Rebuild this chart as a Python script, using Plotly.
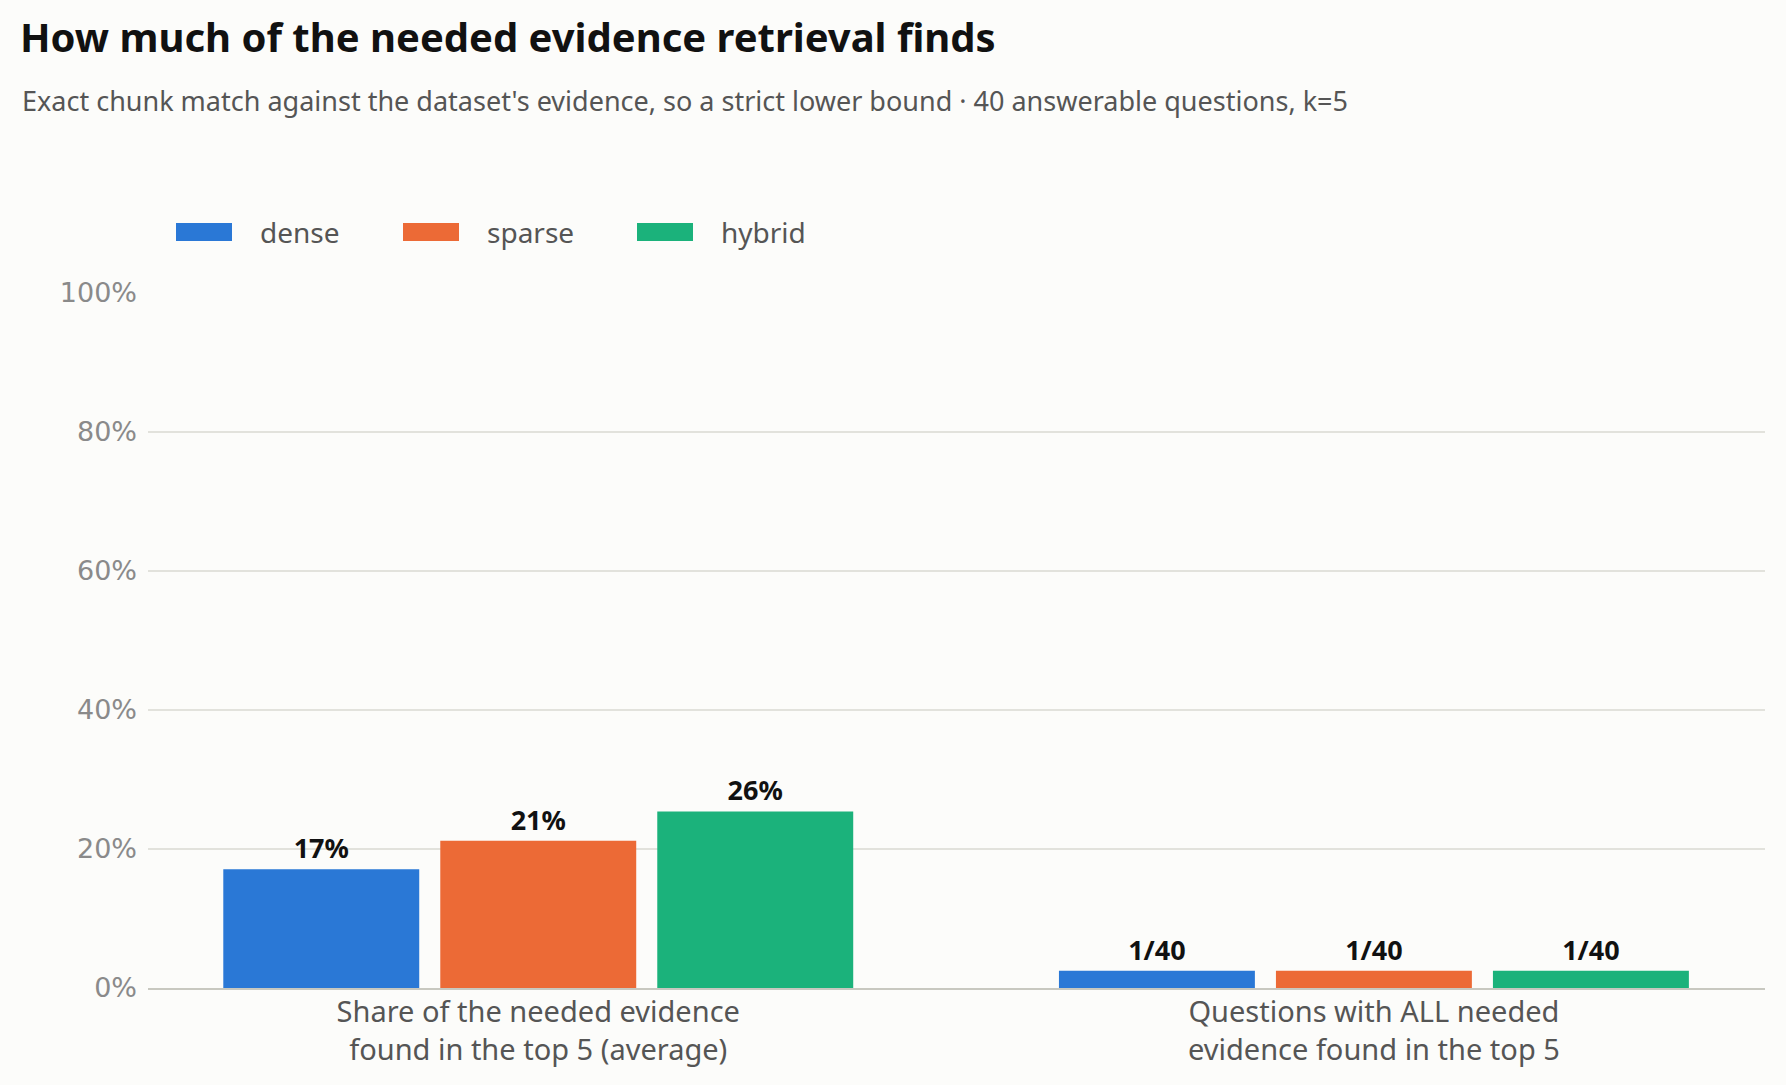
import plotly.graph_objects as go

W, H = 1786, 1085

categories = [
    "Share of the needed evidence<br>found in the top 5 (average)",
    "Questions with ALL needed<br>evidence found in the top 5",
]
methods = ["dense", "sparse", "hybrid"]
colors = ["#2a78d6", "#ec6a36", "#1bb27b"]

# percent values per method, one per category
dense = [17.1, 2.5]
sparse = [21.2, 2.5]
hybrid = [25.4, 2.5]
dense_labels = ["17%", "1/40"]
sparse_labels = ["21%", "1/40"]
hybrid_labels = ["26%", "1/40"]

series = [dense, sparse, hybrid]
labels = [dense_labels, sparse_labels, hybrid_labels]

y_ticks = [0, 20, 40, 60, 80, 100]

BG = "#fcfcfa"
BODY = "Noto Sans"
ML, MR, MT, MB = 140, 29, 285, 105
PW, PH = W - ML - MR, H - MT - MB


def px_x(v):
    return (v - ML) / PW


def px_y(v):
    return 1 - (v - MT) / PH


fig = go.Figure()
for name, vals, lab, col in zip(methods, series, labels, colors):
    fig.add_trace(go.Bar(
        x=categories, y=vals, name=name,
        marker=dict(color=col, line=dict(width=0)),
        text=lab, textposition="outside", cliponaxis=False,
        textfont=dict(family=BODY, size=27, color="#111111", weight="bold"),
        showlegend=False,
    ))

# legend: wide swatches + labels, laid out in a row
legend_y = 224
swatch_x = [168, 395, 629]
shapes, annotations = [], []
for name, col, sx in zip(methods, colors, swatch_x):
    shapes.append(dict(
        type="rect", xref="paper", yref="paper",
        x0=px_x(sx), x1=px_x(sx + 56),
        y0=px_y(legend_y + 9), y1=px_y(legend_y - 9),
        fillcolor=col, line=dict(width=0),
    ))
    annotations.append(dict(
        text=name, xref="paper", yref="paper",
        x=px_x(sx + 82), xanchor="left", y=px_y(legend_y), yanchor="middle",
        showarrow=False, font=dict(family=BODY, size=28, color="#555555"),
    ))

annotations.append(dict(
    text="Exact chunk match against the dataset's evidence, so a strict lower bound · 40 answerable questions, k=5",
    xref="paper", yref="paper",
    x=px_x(12), xanchor="left", y=px_y(92), yanchor="middle",
    showarrow=False, font=dict(family=BODY, size=27, color="#555555"),
))

fig.update_layout(
    width=W, height=H,
    paper_bgcolor=BG, plot_bgcolor=BG,
    margin=dict(l=ML, r=MR, t=MT, b=MB),
    barmode="group", bargap=0.221, bargroupgap=0.097,
    showlegend=False,
    title=dict(
        text="<b>How much of the needed evidence retrieval finds</b>",
        x=12 / W, xanchor="left", xref="container",
        y=1 - 30 / H, yanchor="middle", yref="container",
        font=dict(family=BODY, size=40, color="#111111"),
    ),
    xaxis=dict(
        range=[-0.467, 1.468], showgrid=False,
        showline=True, linecolor="#c8c8c0", linewidth=2,
        ticks="", tickfont=dict(family=BODY, size=29, color="#555555"),
        ticklabelstandoff=-3,
    ),
    yaxis=dict(
        range=[0, 100], tickvals=y_ticks,
        ticktext=[f"{v}%" for v in y_ticks],
        showgrid=True, gridcolor="#e2e2dc", gridwidth=1.5,
        zeroline=False, showline=False, ticks="",
        tickfont=dict(family="DejaVu Sans", size=27, color="#8a8a8a"),
        ticklabelstandoff=10,
    ),
    shapes=shapes,
    annotations=annotations,
)

fig.write_html("out.html", post_script=f"document.body.style.background = '{BG}';")
